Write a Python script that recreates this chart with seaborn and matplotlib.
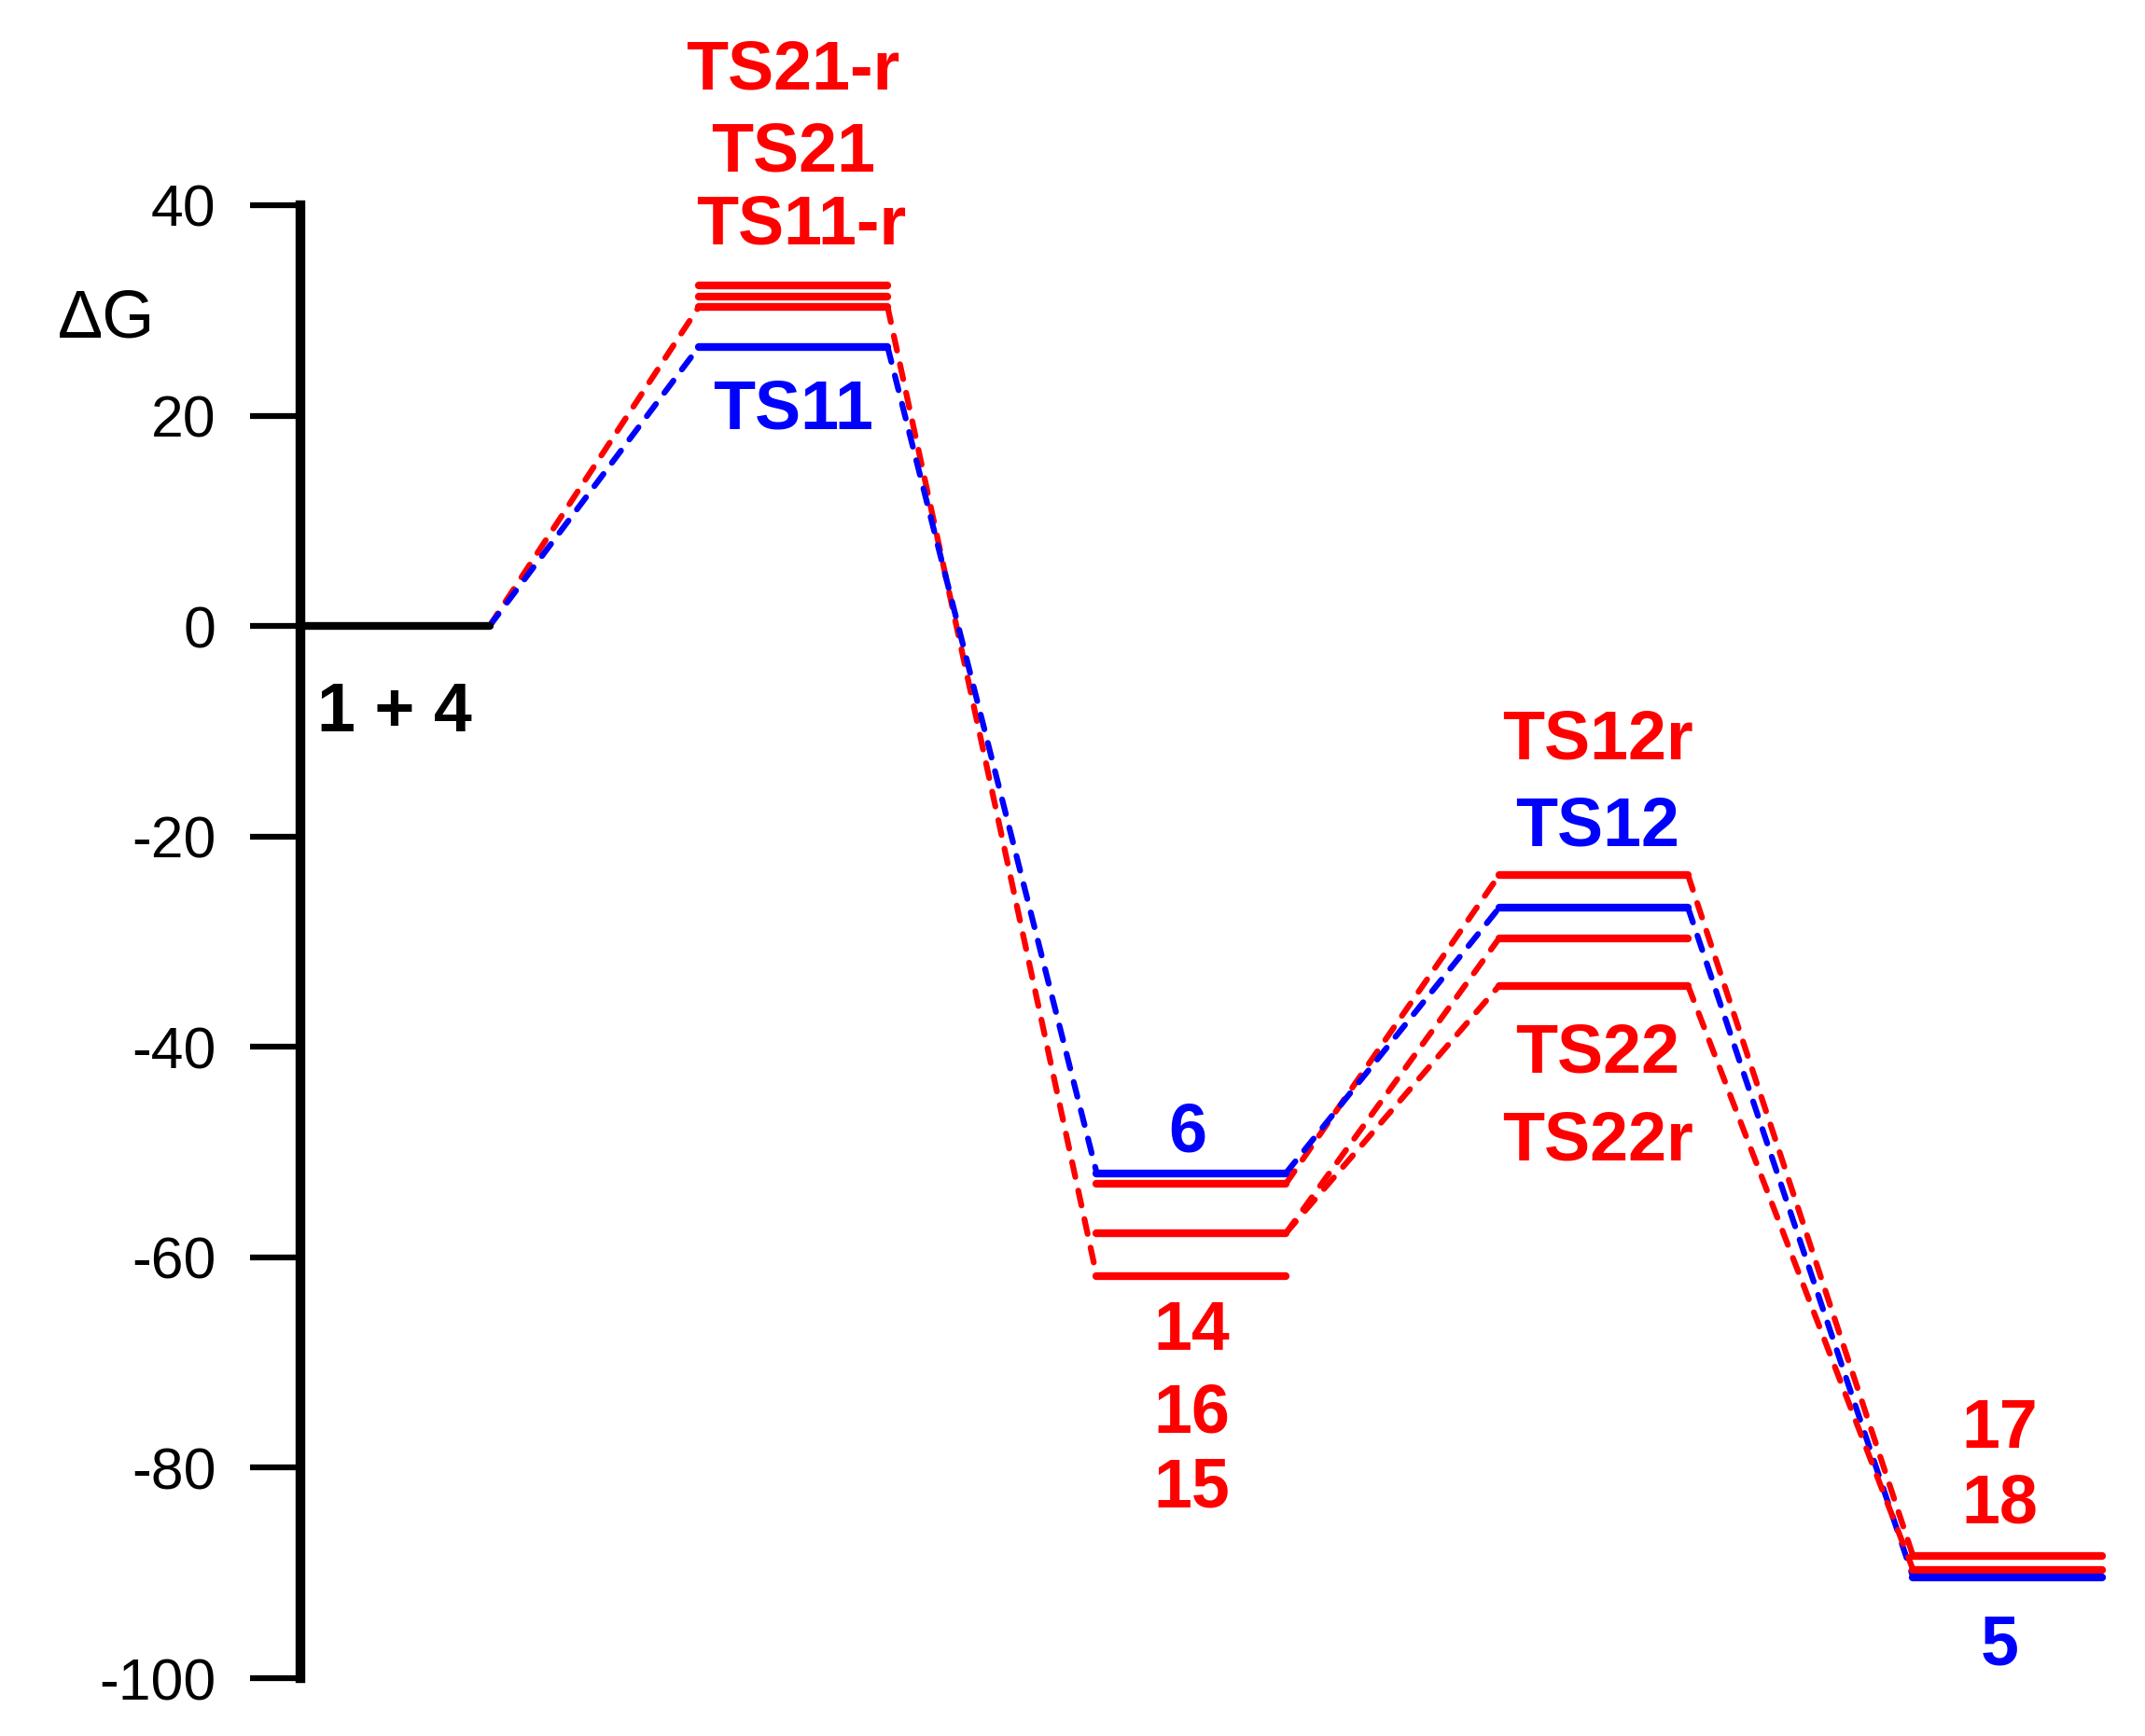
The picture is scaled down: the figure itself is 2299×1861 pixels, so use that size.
import pandas as pd
import matplotlib
matplotlib.use("Agg")
import matplotlib.pyplot as plt
import seaborn as sns

# energies (kcal/mol)
stage_start = [0.0, 1.0, 2.0, 3.01, 4.05]   # left edge of each stage (x units)
level_width = 0.475

level_stage = [0, 1, 1, 1, 1, 2, 2, 2, 2, 3, 3, 3, 3, 4, 4, 4]
level_energy = [0.0, 26.5, 30.3, 31.3, 32.4,
                -52.0, -53.0, -57.7, -61.8,
                -23.7, -26.8, -29.7, -34.2,
                -88.4, -89.7, -90.4]
level_color = ["black", "blue", "red", "red", "red",
               "blue", "red", "red", "red",
               "red", "blue", "red", "red",
               "red", "red", "blue"]

# dashed connectors: (from stage, from energy, to energy, colour)
conn_from_stage = [0, 0, 1, 1, 2, 2, 2, 2, 3, 3, 3]
conn_from_energy = [0.0, 0.0, 30.3, 26.5, -53.0, -52.0, -57.7, -57.7, -23.7, -26.8, -34.2]
conn_to_energy = [30.3, 26.5, -61.8, -52.0, -23.7, -26.8, -29.7, -34.2, -88.4, -90.4, -89.7]
conn_color = ["red", "blue", "red", "blue", "red", "blue", "red", "red", "red", "blue", "red"]

# labels
label_text = ["1 + 4", "TS21-r", "TS21", "TS11-r", "TS11",
              "6", "14", "16", "15",
              "TS12r", "TS12", "TS22", "TS22r",
              "17", "18", "5"]
label_stage = [0, 1, 1, 1, 1, 2, 2, 2, 2, 3, 3, 3, 3, 4, 4, 4]
label_y = [-8.3, 52.8, 45.0, 38.0, 20.4,
           -48.2, -67.1, -74.9, -82.0,
           -10.9, -19.1, -40.7, -49.0,
           -76.4, -83.5, -97.0]
label_dx = [0.0, 0.0, 0.0, 0.02, 0.0, -0.01, 0.0, 0.0, 0.0, 0.01, 0.01, 0.01, 0.01, -0.02, -0.02, -0.02]
label_color = ["black", "red", "red", "red", "blue",
               "blue", "red", "red", "red",
               "red", "blue", "red", "red",
               "red", "red", "blue"]

yticks = [40, 20, 0, -20, -40, -60, -80, -100]

sns.set_theme(style="white")
plt.rcParams['font.family'] = ['Liberation Sans', 'DejaVu Sans']

fig = plt.figure(figsize=(22.99, 18.61), dpi=100)
ax = fig.add_axes([0.140, 0.0333, 0.854, 0.8485])
ax.set_xlim(0, 4.6)
ax.set_ylim(-100, 40)

levels = pd.DataFrame({"stage": level_stage, "energy": level_energy, "color": level_color})
levels["x0"] = [stage_start[s] for s in levels["stage"]]
levels["x1"] = levels["x0"] + level_width

conns = pd.DataFrame({"stage": conn_from_stage, "e0": conn_from_energy,
                      "e1": conn_to_energy, "color": conn_color})
for _, c in conns.iterrows():
    xa = stage_start[c["stage"]] + level_width
    xb = stage_start[c["stage"] + 1]
    ax.plot([xa, xb], [c["e0"], c["e1"]], color=c["color"], lw=4.5,
            dashes=(2.6, 2.4), dash_capstyle="round", zorder=2)

for _, r in levels.iterrows():
    ax.hlines(r["energy"], r["x0"], r["x1"], color=r["color"], lw=6, zorder=3,
              capstyle="round")

for t, s, y, dx, col in zip(label_text, label_stage, label_y, label_dx, label_color):
    ax.text(stage_start[s] + level_width / 2 + dx, y, t, color=col, fontsize=53,
            fontweight="bold", ha="center", va="center", clip_on=False)

ax.text(-0.487, 29.1, "\u0394G", fontsize=52, color="black", ha="center", va="center",
        clip_on=False)

sns.despine(ax=ax, top=True, right=True, bottom=True, left=False)
ax.spines["left"].set_linewidth(7.5)
ax.spines["left"].set_color("black")
ax.set_yticks(yticks)
ax.set_yticklabels([str(v) for v in yticks])
ax.set_xticks([])
ax.tick_params(axis="y", direction="out", length=39, width=4.5, color="black",
               labelcolor="black", labelsize=45, pad=26, left=True)
ax.grid(False)

fig.savefig("out.png", dpi=100)
